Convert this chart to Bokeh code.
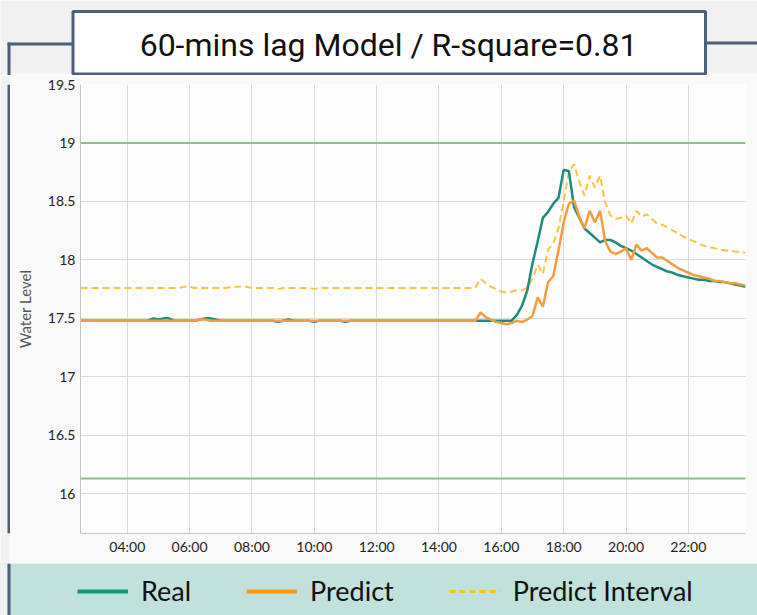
import pandas as pd
from bokeh.plotting import figure
from bokeh.layouts import column, row
from bokeh.models import (Span, Legend, LegendItem, FixedTicker,
                          DatetimeTickFormatter, NumeralTickFormatter, Range1d)
from bokeh.embed import file_html
from bokeh.resources import INLINE
from bokeh.core.properties import value

title_text = "60-mins lag Model / R-square=0.81"
y_label = "Water Level"
series_names = ["Real", "Predict", "Predict Interval"]
start_time = "2020-01-01 02:30"
step = "10min"

real = [
    17.48, 17.48, 17.48, 17.48, 17.48, 17.48, 17.48, 17.48, 17.48, 17.48,
    17.48, 17.48, 17.48, 17.48, 17.50, 17.49, 17.50, 17.50, 17.48, 17.48,
    17.48, 17.48, 17.48, 17.49, 17.50, 17.50, 17.49, 17.48, 17.48, 17.48,
    17.48, 17.48, 17.48, 17.48, 17.48, 17.48, 17.48, 17.48, 17.47, 17.48,
    17.49, 17.48, 17.48, 17.48, 17.48, 17.47, 17.48, 17.48, 17.48, 17.48,
    17.48, 17.47, 17.48, 17.48, 17.48, 17.48, 17.48, 17.48, 17.48, 17.48,
    17.48, 17.48, 17.48, 17.48, 17.48, 17.48, 17.48, 17.48, 17.48, 17.48,
    17.48, 17.48, 17.48, 17.48, 17.48, 17.48, 17.48, 17.48, 17.48, 17.48,
    17.48, 17.48, 17.48, 17.48, 17.53, 17.61, 17.74, 17.97, 18.16, 18.36,
    18.41, 18.48, 18.53, 18.77, 18.76, 18.45, 18.36, 18.27, 18.23, 18.19,
    18.15, 18.17, 18.17, 18.15, 18.12, 18.10, 18.08, 18.05, 18.02, 17.99,
    17.96, 17.94, 17.92, 17.90, 17.89, 17.87, 17.86, 17.85, 17.84, 17.83,
    17.83, 17.82, 17.82, 17.81, 17.81, 17.80, 17.79, 17.78, 17.77,
]

predict = [
    17.48, 17.48, 17.48, 17.48, 17.48, 17.48, 17.48, 17.48, 17.48, 17.48,
    17.48, 17.48, 17.48, 17.48, 17.48, 17.48, 17.48, 17.48, 17.48, 17.48,
    17.48, 17.48, 17.48, 17.49, 17.49, 17.48, 17.48, 17.48, 17.48, 17.48,
    17.48, 17.48, 17.48, 17.48, 17.48, 17.48, 17.48, 17.48, 17.48, 17.48,
    17.48, 17.48, 17.48, 17.48, 17.48, 17.48, 17.48, 17.48, 17.48, 17.48,
    17.48, 17.48, 17.48, 17.48, 17.48, 17.48, 17.48, 17.48, 17.48, 17.48,
    17.48, 17.48, 17.48, 17.48, 17.48, 17.48, 17.48, 17.48, 17.48, 17.48,
    17.48, 17.48, 17.48, 17.48, 17.48, 17.48, 17.48, 17.55, 17.51, 17.49,
    17.47, 17.46, 17.45, 17.46, 17.48, 17.47, 17.49, 17.52, 17.68, 17.60,
    17.81, 17.86, 18.08, 18.32, 18.48, 18.51, 18.37, 18.27, 18.42, 18.32,
    18.42, 18.16, 18.07, 18.05, 18.07, 18.10, 18.00, 18.13, 18.08, 18.10,
    18.06, 18.02, 18.02, 17.99, 17.96, 17.93, 17.91, 17.89, 17.87, 17.86,
    17.85, 17.84, 17.82, 17.82, 17.81, 17.80, 17.80, 17.79, 17.78,
]

interval = [
    17.76, 17.76, 17.76, 17.76, 17.76, 17.76, 17.76, 17.76, 17.76, 17.76,
    17.76, 17.76, 17.76, 17.76, 17.76, 17.76, 17.76, 17.76, 17.76, 17.76,
    17.77, 17.77, 17.76, 17.76, 17.76, 17.76, 17.76, 17.76, 17.76, 17.77,
    17.77, 17.77, 17.77, 17.76, 17.76, 17.76, 17.76, 17.76, 17.75, 17.76,
    17.76, 17.76, 17.76, 17.76, 17.76, 17.75, 17.76, 17.76, 17.76, 17.76,
    17.76, 17.76, 17.76, 17.76, 17.76, 17.76, 17.76, 17.76, 17.76, 17.76,
    17.76, 17.76, 17.76, 17.76, 17.76, 17.76, 17.76, 17.76, 17.76, 17.76,
    17.76, 17.76, 17.76, 17.76, 17.76, 17.76, 17.76, 17.84, 17.80, 17.77,
    17.75, 17.73, 17.72, 17.73, 17.74, 17.74, 17.76, 17.84, 17.96, 17.88,
    18.09, 18.14, 18.27, 18.50, 18.75, 18.82, 18.67, 18.55, 18.72, 18.62,
    18.72, 18.49, 18.38, 18.35, 18.36, 18.38, 18.31, 18.42, 18.37, 18.39,
    18.35, 18.31, 18.30, 18.28, 18.25, 18.23, 18.20, 18.18, 18.16, 18.14,
    18.12, 18.11, 18.10, 18.09, 18.08, 18.08, 18.07, 18.07, 18.06,
]

thresholds = [19.0, 16.13]
x_tick_labels = ["04:00", "06:00", "08:00", "10:00", "12:00",
                 "14:00", "16:00", "18:00", "20:00", "22:00"]
y_ticks = [16, 16.5, 17, 17.5, 18, 18.5, 19, 19.5]

# colours / styles
C_REAL = "#1e8c7c"
C_PRED = "#f59c3c"
C_INT = "#f8c444"
C_LEG_REAL = "#0e9a70"
C_LEG_PRED = "#f79a10"
C_LEG_INT = "#fcc21a"
C_FRAME = "#4b6079"
C_THRESH = "#86c386"
C_PAGE = "#f1f1f1"
C_CARD = "#f9f9f9"
C_BAND = "#c0e1dc"

W = 757
H_HEAD, H_MAIN, H_LEG = 75, 488, 52
STRIPE_W = 10


def blank(width, height, bg):
    f = figure(width=width, height=height, x_range=Range1d(0, width),
               y_range=Range1d(height, 0), output_backend="svg",
               toolbar_location=None, x_axis_location=None, y_axis_location=None,
               min_border=0, outline_line_color=None,
               background_fill_color=bg, border_fill_color=bg)
    f.grid.visible = False
    return f


# ---------- header: title box + border lines ----------
head = blank(W, H_HEAD, C_PAGE)
head.quad(left=[10], right=[W], top=[73], bottom=[H_HEAD], fill_color=C_CARD, line_color=None)
head.quad(left=[7, 7, 705], right=[10, 72, W], top=[42, 42, 41], bottom=[H_HEAD, 45, 44],
          fill_color=C_FRAME, line_color=None)
head.quad(left=[72.5], right=[705], top=[11], bottom=[73.5], fill_color="#ffffff",
          line_color=C_FRAME, line_width=3)
head.text(x=[388], y=[44], text=[title_text], text_align="center",
          text_baseline="alphabetic", text_font=value("Roboto"),
          text_font_size="32px", text_color="#111111")

# ---------- left stripe beside the chart ----------
stripe = blank(STRIPE_W, H_MAIN, C_PAGE)
stripe.quad(left=[7], right=[10], top=[0], bottom=[H_MAIN], fill_color=C_FRAME, line_color=None)

# ---------- main chart ----------
times = pd.date_range(start_time, periods=len(real), freq=step)
day = start_time.split(" ")[0]
tick_ms = [pd.Timestamp(f"{day} {t}").value // 10**6 for t in x_tick_labels]

p = figure(width=W - STRIPE_W, height=H_MAIN, x_axis_type="datetime",
           x_range=Range1d(times[0].to_pydatetime(), times[-1].to_pydatetime()),
           y_range=Range1d(15.66, 19.5),
           output_backend="svg", toolbar_location=None,
           min_border_left=70, min_border_right=12,
           min_border_top=9, min_border_bottom=30,
           background_fill_color="#fdfdfd", border_fill_color=C_CARD,
           outline_line_color=None)

for ax in (p.xaxis[0], p.yaxis[0]):
    ax.axis_line_color = "#c4c4c4"
    ax.axis_line_width = 1
    ax.major_tick_line_color = None
    ax.minor_tick_line_color = None
    ax.major_tick_out = 0
    ax.major_label_text_font = "Lato"
    ax.major_label_text_font_size = "14px"
    ax.major_label_text_color = "#222222"

p.xaxis.ticker = FixedTicker(ticks=tick_ms)
fmt = "%H:%M"
p.xaxis.formatter = DatetimeTickFormatter(hours=fmt, hourmin=fmt, minutes=fmt,
                                          minsec=fmt, days=fmt, seconds=fmt)
p.xaxis.major_label_standoff = 4
p.yaxis.ticker = FixedTicker(ticks=y_ticks)
p.yaxis.formatter = NumeralTickFormatter(format="0.[0]")
p.yaxis.major_label_standoff = 5
p.yaxis.axis_label = y_label
p.yaxis.axis_label_text_font = "Lato"
p.yaxis.axis_label_text_font_style = "normal"
p.yaxis.axis_label_text_font_size = "15px"
p.yaxis.axis_label_text_color = "#555555"
p.yaxis.axis_label_standoff = 11

p.xgrid.ticker = FixedTicker(ticks=tick_ms)
p.ygrid.ticker = FixedTicker(ticks=y_ticks)
for g in (p.xgrid[0], p.ygrid[0]):
    g.grid_line_color = "#dadada"
    g.grid_line_width = 1

for t in thresholds:
    p.add_layout(Span(location=t, dimension="width", line_color=C_THRESH, line_width=2))

p.line(times, interval, line_color=C_INT, line_width=2, line_dash="7 4")
p.line(times, real, line_color=C_REAL, line_width=2.5)
p.line(times, predict, line_color=C_PRED, line_width=2.5)

# ---------- legend band ----------
leg = blank(W, H_LEG, C_BAND)
leg.quad(left=[0, 7], right=[7, 10], top=[0, 0], bottom=[H_LEG, H_LEG],
         fill_color=[C_PAGE, C_FRAME], line_color=None)
# legend keys: same series, hidden in this band (only their legend glyphs show)
lr = leg.line(times, real, line_color=C_LEG_REAL, line_width=4, visible=False)
lp = leg.line(times, predict, line_color=C_LEG_PRED, line_width=4, visible=False)
li = leg.line(times, interval, line_color=C_LEG_INT, line_width=3, line_dash="6 4",
              visible=False)
legend = Legend(items=[LegendItem(label=series_names[0], renderers=[lr]),
                       LegendItem(label=series_names[1], renderers=[lp]),
                       LegendItem(label=series_names[2], renderers=[li])],
                orientation="horizontal", location=(77, 8),
                padding=0, margin=0, spacing=55, glyph_width=51, glyph_height=20,
                label_standoff=13, label_text_font="Lato",
                label_text_font_size="27px", label_text_color="#111111",
                inactive_fill_alpha=0,
                border_line_color=None, background_fill_alpha=0)
leg.add_layout(legend)

layout = column(head, row(stripe, p), leg)
open("out.html", "w").write(file_html(layout, INLINE))
